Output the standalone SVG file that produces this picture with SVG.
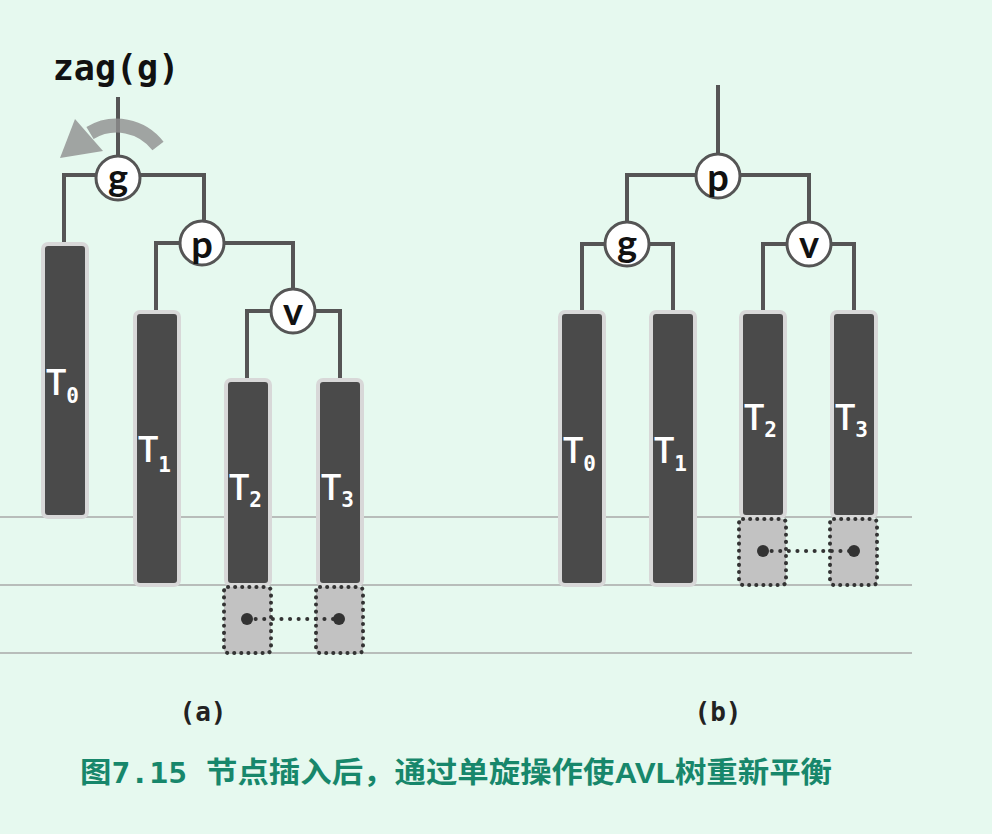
<svg xmlns="http://www.w3.org/2000/svg" width="992" height="834" viewBox="0 0 992 834">
<style>
.bg{fill:#e6f9ef}
.lvl{stroke:#a9a9a9;stroke-width:1.5}
.edge{fill:none;stroke:#555;stroke-width:4}
.node circle{fill:#fff;stroke:#555;stroke-width:3}
.node text{font-family:Lato,"Open Sans",sans-serif;font-weight:bold;font-size:38px;fill:#111;text-anchor:middle}
.tree rect.t{fill:#4a4a4a;stroke:#d8d8d8;stroke-width:4}
.tree text{font-family:"Open Sans","DejaVu Sans",sans-serif;font-weight:600;font-size:36px;fill:#fff}
.tree tspan.s{font-family:"DejaVu Sans Mono",monospace;font-weight:bold;font-size:21px}
.ext rect{fill:#c2c2c2;stroke:#333;stroke-width:4;stroke-dasharray:0.1 7;stroke-linecap:round}
.ext line{stroke:#333;stroke-width:4;stroke-dasharray:0.1 8.5;stroke-linecap:round}
.ext circle{fill:#333}
.cap{font-family:"DejaVu Sans Mono",monospace;font-weight:bold;font-size:26px;fill:#222;text-anchor:middle}
</style>
<rect class="bg" x="0" y="0" width="992" height="834"/>
<g id="levels">
<line class="lvl" x1="0" y1="517" x2="912" y2="517"/>
<line class="lvl" x1="0" y1="585" x2="912" y2="585"/>
<line class="lvl" x1="0" y1="653" x2="912" y2="653"/>
</g>
<text x="116" y="80" font-family="DejaVu Sans Mono,monospace" font-weight="bold" font-size="35" fill="#111" text-anchor="middle">zag(g)</text>
<g id="connectors">
<path class="edge" d="M118 97V160"/>
<path class="edge" d="M64 242V175H204V222"/>
<path class="edge" d="M156 311V243H293V290"/>
<path class="edge" d="M247 380V311H340V380"/>
<path class="edge" d="M718 85V154"/>
<path class="edge" d="M627 222V175H809V222"/>
<path class="edge" d="M582 312V244H673V312"/>
<path class="edge" d="M763 312V244H854V312"/>
</g>
<g id="rotate-arrow" opacity="0.8">
<path d="M158 146A52 52 0 0 0 90 133" fill="none" stroke="#8f8f8f" stroke-width="14"/>
<polygon points="75,119 103,151 60,158" fill="#8f8f8f"/>
</g>
<g id="a-g" class="node"><circle cx="118" cy="178" r="22"/><text x="118" y="191">g</text></g>
<g id="a-p" class="node"><circle cx="202" cy="243" r="22"/><text x="202" y="258">p</text></g>
<g id="a-v" class="node"><circle cx="293" cy="311" r="22"/><text x="293" y="325">v</text></g>
<g id="b-p" class="node"><circle cx="718" cy="176" r="22"/><text x="718" y="191">p</text></g>
<g id="b-g" class="node"><circle cx="627" cy="244" r="22"/><text x="627" y="257">g</text></g>
<g id="b-v" class="node"><circle cx="809" cy="244" r="22"/><text x="809" y="258">v</text></g>
<g id="a-T0" class="tree"><rect class="t" x="43" y="244" width="44" height="273" rx="5"/><text x="46" y="395">T<tspan class="s" dy="8">0</tspan></text></g>
<g id="a-T1" class="tree"><rect class="t" x="135" y="312" width="44" height="273" rx="5"/><text x="138" y="462">T<tspan class="s" dy="10">1</tspan></text></g>
<g id="a-T2" class="tree"><rect class="t" x="226" y="380" width="44" height="205" rx="5"/><text x="229" y="500">T<tspan class="s" dy="7">2</tspan></text></g>
<g id="a-T3" class="tree"><rect class="t" x="318" y="380" width="44" height="205" rx="5"/><text x="321" y="500">T<tspan class="s" dy="7">3</tspan></text></g>
<g id="b-T0" class="tree"><rect class="t" x="560" y="312" width="44" height="273" rx="5"/><text x="563" y="463">T<tspan class="s" dy="8">0</tspan></text></g>
<g id="b-T1" class="tree"><rect class="t" x="651" y="312" width="44" height="273" rx="5"/><text x="654" y="463">T<tspan class="s" dy="8">1</tspan></text></g>
<g id="b-T2" class="tree"><rect class="t" x="741" y="312" width="44" height="205" rx="5"/><text x="744" y="430">T<tspan class="s" dy="7">2</tspan></text></g>
<g id="b-T3" class="tree"><rect class="t" x="832" y="312" width="44" height="205" rx="5"/><text x="835" y="430">T<tspan class="s" dy="7">3</tspan></text></g>
<g id="a-ext" class="ext">
<rect x="224" y="587" width="47" height="66" rx="4"/>
<rect x="316" y="587" width="47" height="66" rx="4"/>
<line x1="247" y1="619" x2="339" y2="619"/>
<circle cx="247" cy="619" r="6"/><circle cx="339" cy="619" r="6"/>
</g>
<g id="b-ext" class="ext">
<rect x="739" y="519" width="47" height="66" rx="4"/>
<rect x="830" y="519" width="47" height="66" rx="4"/>
<line x1="763" y1="551" x2="854" y2="551"/>
<circle cx="763" cy="551" r="6"/><circle cx="854" cy="551" r="6"/>
</g>
<text class="cap" x="203" y="721">(a)</text>
<text class="cap" x="718" y="721">(b)</text>
<text x="80" y="783" font-family="Noto Sans CJK SC,sans-serif" font-weight="bold" font-size="29" fill="#17876b" textLength="752" lengthAdjust="spacingAndGlyphs">图<tspan font-family="DejaVu Sans Mono,monospace">7.15 </tspan>节点插入后，通过单旋操作使<tspan font-family="Liberation Sans Narrow,Liberation Sans,sans-serif">AVL</tspan>树重新平衡</text>
</svg>
